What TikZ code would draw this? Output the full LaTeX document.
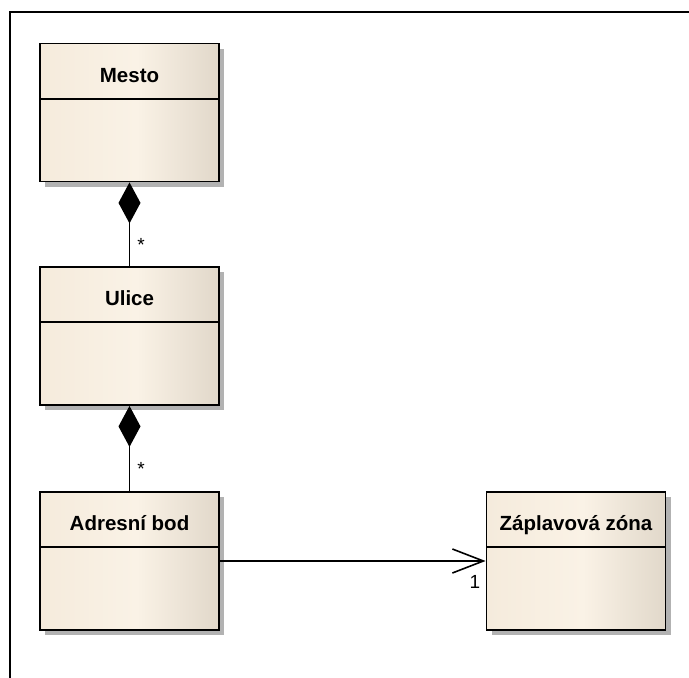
\documentclass[tikz,border=0pt]{standalone}
\usepackage{fontspec}
\setmainfont{Liberation Sans}
\usetikzlibrary{arrows.meta,shadows}
\definecolor{cleft}{HTML}{F5EBDC}
\definecolor{cmid}{HTML}{FAF2E6}
\definecolor{cright}{HTML}{E1D8CA}
\pgfdeclarehorizontalshading{classshade}{100bp}{color(0bp)=(cleft); color(25bp)=(cleft); color(52bp)=(cmid); color(75bp)=(cright); color(100bp)=(cright)}
\begin{document}
\begin{tikzpicture}[x=1pt,y=-1pt,
  classbox/.style={draw=black, line width=1.8pt, shading=classshade, minimum width=179pt, minimum height=138pt, inner sep=0pt,
    drop shadow={shadow xshift=5pt, shadow yshift=-5pt, fill=black!30, opacity=1}},
  titletext/.style={font=\fontsize{20.5}{22}\selectfont\bfseries, anchor=base, inner sep=0pt},
  multtext/.style={font=\fontsize{19}{21}\selectfont, inner sep=0pt},
  conn/.style={line width=1.6pt}]
\useasboundingbox (0,0) rectangle (689,678);
% frame
\draw[line width=2.2pt] (10,678) -- (10,12) -- (689,12);
% classes
\node[classbox] (mesto) at (129.5,112.5) {};
\draw[line width=1.8pt] (40,99) -- (219,99);
\node[titletext] (mestot) at (129.5,82) {Mesto};

\node[classbox] (ulice) at (129.5,336) {};
\draw[line width=1.8pt] (40,322) -- (219,322);
\node[titletext] (ulicet) at (129.5,305) {Ulice};

\node[classbox] (adres) at (129.5,561) {};
\draw[line width=1.8pt] (40,547) -- (219,547);
\node[titletext] (adrest) at (129.5,530) {Adresní bod};

\node[classbox] (zona) at (576,561) {};
\draw[line width=1.8pt] (487,547) -- (665,547);
\node[titletext] (zonat) at (576,530) {Záplavová zóna};

% connectors
\draw[conn, {Diamond[length=41pt,width=22pt]}-] (mesto.south) -- (ulice.north);
\draw[conn, {Diamond[length=41pt,width=22pt]}-] (ulice.south) -- (adres.north);
\draw[conn, -{Straight Barb[length=31pt,width=24pt,line width=1.6pt]}] (adres.east) -- (zona.west);
% multiplicities
\node[multtext] (m1) at (141,245) {*};
\node[multtext] (m2) at (141,469) {*};
\node[multtext] (m3) at (475,582) {1};
\end{tikzpicture}
\end{document}
